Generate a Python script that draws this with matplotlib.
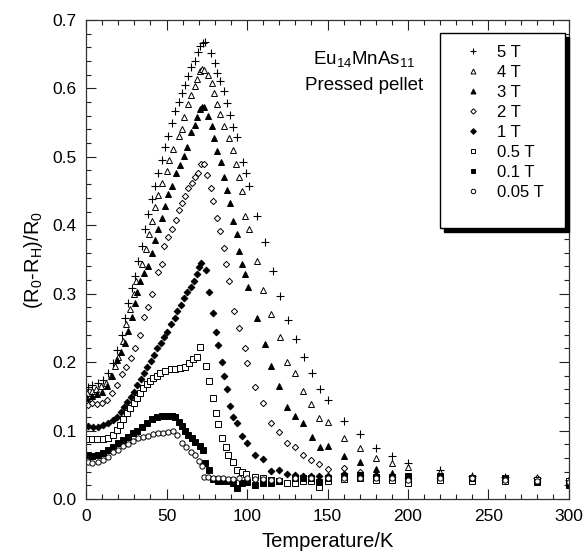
"""Magnetoresistance of a Eu14MnAs11 pressed pellet versus temperature."""

import matplotlib

matplotlib.use("Agg")
import matplotlib.pyplot as plt
from matplotlib.patches import Rectangle
from matplotlib.ticker import MultipleLocator

plt.rcParams["font.family"] = ["Liberation Sans", "DejaVu Sans"]
plt.rcParams["mathtext.fontset"] = "custom"
plt.rcParams["mathtext.rm"] = "Liberation Sans"
plt.rcParams["mathtext.it"] = "Liberation Sans"
plt.rcParams["mathtext.default"] = "regular"

# (R0 - RH)/R0 against temperature (K), one pair of lists per field
t_5T = [1, 4, 7.5, 10.5, 13.5, 17, 19.5, 22.5, 24.5, 26, 28.5, 30.5, 32.5, 35, 36.5,
        38.5, 41, 43, 45, 47.5, 49, 51, 53.5, 55.5, 57.5, 59.5, 61.5, 63.5, 65.5, 68,
        69.5, 71, 72.5, 74, 77.5, 80, 81.5, 83.5, 86, 87.5, 89.5, 91.5, 94, 97.5, 99.5,
        101.5, 106, 111, 116, 120.5, 125.5, 130.5, 135.5, 140.5, 145.5, 150, 160, 170,
        180, 190, 200, 220, 240, 260, 280, 300]
mr_5T = [0.164, 0.167, 0.170, 0.174, 0.184, 0.199, 0.218, 0.240, 0.265, 0.287, 0.309,
         0.326, 0.347, 0.370, 0.394, 0.416, 0.438, 0.458, 0.477, 0.496, 0.515, 0.531,
         0.549, 0.567, 0.580, 0.593, 0.605, 0.618, 0.631, 0.640, 0.653, 0.662, 0.666,
         0.668, 0.651, 0.637, 0.623, 0.611, 0.596, 0.579, 0.561, 0.543, 0.529, 0.492,
         0.476, 0.457, 0.414, 0.375, 0.333, 0.297, 0.261, 0.234, 0.208, 0.184, 0.160,
         0.145, 0.114, 0.095, 0.075, 0.063, 0.053, 0.042, 0.034, 0.032, 0.030, 0.028]

t_4T = [0.5, 3.5, 6.5, 9.5, 12.5, 15.5, 18, 20, 23, 25, 27.5, 29.5, 31, 35, 37.5, 39,
        41, 43, 45, 47.5, 50, 51.5, 54, 57.5, 59.5, 61, 63.5, 65.5, 67.5, 69, 70.5, 72,
        73.5, 75.5, 78, 79.5, 81.5, 83.5, 85.5, 89, 91, 93, 95, 97, 99, 101, 106, 110,
        115, 120.5, 125, 130, 135, 140, 145, 150, 160, 170, 180, 190, 200, 220, 240,
        260, 280, 300]
mr_4T = [0.155, 0.158, 0.161, 0.165, 0.170, 0.180, 0.195, 0.208, 0.231, 0.255, 0.277,
         0.299, 0.318, 0.343, 0.365, 0.387, 0.406, 0.426, 0.444, 0.461, 0.479, 0.495,
         0.512, 0.530, 0.541, 0.558, 0.577, 0.590, 0.603, 0.613, 0.625, 0.628, 0.627,
         0.619, 0.608, 0.593, 0.577, 0.562, 0.545, 0.528, 0.510, 0.489, 0.470, 0.450,
         0.414, 0.394, 0.348, 0.306, 0.270, 0.236, 0.200, 0.184, 0.158, 0.139, 0.119,
         0.113, 0.089, 0.075, 0.060, 0.053, 0.047, 0.040, 0.033, 0.031, 0.030, 0.028]

t_3T = [0.5, 3.5, 7, 10, 13, 16, 19.5, 22, 24.5, 26, 28.5, 30.5, 31.5, 33.5, 36, 38.5,
        41, 43, 45, 47.5, 49, 51, 53.5, 56, 58.5, 61, 63, 65.5, 67.5, 69, 70.5, 72, 73,
        75.5, 78, 79.5, 81.5, 84, 86, 87.5, 89.5, 91.5, 93.5, 95, 97, 99, 100.5, 106,
        111, 115, 120, 125, 130, 135, 140.5, 145.5, 150, 160, 170, 180, 190, 200, 220,
        240, 260, 280, 300]
mr_3T = [0.148, 0.150, 0.153, 0.157, 0.165, 0.180, 0.203, 0.215, 0.228, 0.246, 0.266,
         0.286, 0.302, 0.319, 0.330, 0.340, 0.359, 0.378, 0.394, 0.411, 0.428, 0.445,
         0.458, 0.477, 0.488, 0.501, 0.514, 0.536, 0.546, 0.558, 0.570, 0.572, 0.572,
         0.559, 0.545, 0.528, 0.508, 0.492, 0.470, 0.451, 0.433, 0.406, 0.387, 0.363,
         0.343, 0.328, 0.310, 0.264, 0.227, 0.194, 0.165, 0.135, 0.122, 0.111, 0.091,
         0.076, 0.078, 0.063, 0.054, 0.044, 0.038, 0.032, 0.030, 0.030, 0.028, 0.026,
         0.025]

t_2T = [1, 4, 7, 10, 13, 16, 19.5, 22.5, 25, 28, 30.5, 33.5, 36, 38.5, 41, 45, 47.5,
        48.5, 51, 53.5, 56, 58, 59.5, 61.5, 63.5, 66, 68, 69.5, 71.5, 73, 75, 77.5, 79,
        81.5, 83.5, 85.5, 87, 89, 92, 95, 99, 100, 105, 110, 115, 120, 125, 130, 135,
        140, 145, 150, 160, 170, 180, 190, 200, 220, 240, 260, 280, 300]
mr_2T = [0.138, 0.140, 0.139, 0.140, 0.145, 0.155, 0.167, 0.182, 0.193, 0.206, 0.221,
         0.240, 0.266, 0.281, 0.300, 0.331, 0.343, 0.370, 0.383, 0.394, 0.408, 0.422,
         0.433, 0.442, 0.454, 0.462, 0.470, 0.477, 0.489, 0.490, 0.474, 0.455, 0.435,
         0.411, 0.391, 0.367, 0.343, 0.318, 0.275, 0.250, 0.220, 0.199, 0.163, 0.140,
         0.111, 0.098, 0.082, 0.076, 0.064, 0.057, 0.051, 0.044, 0.045, 0.040, 0.035,
         0.032, 0.030, 0.028, 0.028, 0.030, 0.030, 0.028]

t_1T = [1, 4.5, 7.5, 10.5, 13.5, 17, 19.5, 22, 23.5, 25.5, 28, 30, 31.5, 34, 36, 38,
        40.5, 42.5, 44, 46.5, 48.5, 50.5, 53, 55, 56.5, 59, 61, 63, 65.5, 67, 69, 70,
        71.5, 74.5, 76.5, 79, 81, 82, 84.5, 86, 87.5, 89.5, 91.5, 94, 97, 100, 105, 110,
        115, 120, 125, 130, 135, 140, 145, 150, 160, 170, 180, 190, 200, 220, 240, 260,
        280, 300]
mr_1T = [0.107, 0.105, 0.105, 0.108, 0.111, 0.116, 0.120, 0.127, 0.135, 0.142, 0.149,
         0.157, 0.167, 0.176, 0.184, 0.193, 0.201, 0.211, 0.220, 0.228, 0.236, 0.244,
         0.255, 0.265, 0.274, 0.283, 0.293, 0.302, 0.310, 0.319, 0.329, 0.339, 0.345,
         0.335, 0.302, 0.272, 0.244, 0.225, 0.200, 0.179, 0.160, 0.136, 0.120, 0.111,
         0.092, 0.082, 0.064, 0.058, 0.041, 0.042, 0.037, 0.035, 0.034, 0.034, 0.033,
         0.033, 0.037, 0.035, 0.033, 0.032, 0.030, 0.030, 0.030, 0.028, 0.027, 0.025]

t_05T = [1, 4, 7, 10.5, 13.5, 16.5, 19, 21, 23, 25.5, 27.5, 29.5, 31.5, 33.5, 35.5, 38,
         40, 41.5, 44, 46, 49, 52.5, 55.5, 58.5, 61.5, 64, 66.5, 69, 71, 74.5, 76.5, 79,
         81, 82, 84.5, 87, 88.5, 91, 94, 97, 99.5, 105, 110, 115, 120, 125, 130, 135,
         140, 145, 150, 160, 170, 180, 190, 200, 220, 240, 260, 280, 300]
mr_05T = [0.088, 0.088, 0.088, 0.088, 0.089, 0.093, 0.101, 0.108, 0.117, 0.126, 0.133,
          0.140, 0.148, 0.155, 0.162, 0.168, 0.173, 0.177, 0.180, 0.184, 0.187, 0.190,
          0.190, 0.192, 0.193, 0.199, 0.204, 0.208, 0.222, 0.195, 0.173, 0.148, 0.126,
          0.110, 0.089, 0.076, 0.064, 0.054, 0.042, 0.040, 0.037, 0.032, 0.031, 0.028,
          0.026, 0.023, 0.024, 0.026, 0.026, 0.018, 0.026, 0.029, 0.030, 0.028, 0.028,
          0.024, 0.028, 0.027, 0.027, 0.028, 0.027]

t_01T = [1, 4, 7.5, 10.5, 13.5, 17, 20, 23, 26, 29, 31.5, 35, 38, 41, 44, 47, 50, 53.5,
         55.5, 57.5, 59.5, 61.5, 63.5, 66, 68, 70.5, 72.5, 74, 76.5, 79, 82, 85, 88, 91,
         94, 97, 100, 105, 110, 115, 120, 130, 135, 140, 145, 150, 160, 170, 180, 190,
         200, 220, 240, 260, 280, 300]
mr_01T = [0.064, 0.063, 0.064, 0.067, 0.072, 0.076, 0.082, 0.086, 0.091, 0.096, 0.100,
          0.105, 0.111, 0.117, 0.120, 0.121, 0.121, 0.121, 0.120, 0.113, 0.106, 0.099,
          0.094, 0.089, 0.084, 0.078, 0.072, 0.053, 0.042, 0.029, 0.027, 0.027, 0.027,
          0.023, 0.016, 0.023, 0.025, 0.020, 0.023, 0.023, 0.026, 0.031, 0.031, 0.031,
          0.025, 0.030, 0.033, 0.035, 0.032, 0.032, 0.033, 0.033, 0.030, 0.030, 0.025,
          0.020]

t_005T = [1, 4, 7.5, 10.5, 13.5, 17, 20, 23, 26, 29, 32.5, 35.5, 38.5, 41.5, 45, 48,
          51, 54, 56.5, 59.5, 62, 65, 68, 70, 72, 73.5, 76, 79, 82, 85, 88, 91, 95, 100,
          105, 110, 115, 120, 130, 140, 150, 160, 170, 180, 190, 200, 220, 240, 260,
          280, 300]
mr_005T = [0.054, 0.053, 0.054, 0.057, 0.062, 0.068, 0.072, 0.077, 0.081, 0.085, 0.089,
           0.091, 0.092, 0.095, 0.096, 0.097, 0.098, 0.100, 0.094, 0.082, 0.076, 0.069,
           0.064, 0.056, 0.048, 0.032, 0.032, 0.031, 0.030, 0.030, 0.029, 0.029, 0.030,
           0.030, 0.029, 0.029, 0.028, 0.028, 0.030, 0.030, 0.030, 0.030, 0.030, 0.030,
           0.030, 0.028, 0.030, 0.030, 0.028, 0.026, 0.025]

field_labels = ["5 T", "4 T", "3 T", "2 T", "1 T", "0.5 T", "0.1 T", "0.05 T"]

series = [
    (t_5T, mr_5T, dict(marker="+", ms=5.5, mew=0.8, mfc="black")),
    (t_4T, mr_4T, dict(marker="^", ms=4.2, mew=0.7, mfc="white")),
    (t_3T, mr_3T, dict(marker="^", ms=4.2, mew=0.7, mfc="black")),
    (t_2T, mr_2T, dict(marker="D", ms=3.2, mew=0.7, mfc="white")),
    (t_1T, mr_1T, dict(marker="D", ms=3.4, mew=0.7, mfc="black")),
    (t_05T, mr_05T, dict(marker="s", ms=4.2, mew=0.7, mfc="white")),
    (t_01T, mr_01T, dict(marker="s", ms=4.2, mew=0.7, mfc="black")),
    (t_005T, mr_005T, dict(marker="o", ms=3.8, mew=0.7, mfc="white")),
]

W, H = 584, 552
fig = plt.figure(figsize=(W / 100, H / 100), dpi=100)
ax = fig.add_axes([0.1473, 0.096, 0.827, 0.868])

for (t, mr, style), label in zip(series, field_labels):
    ax.plot(t, mr, ls="none", color="black", mec="black", label=label, **style)

ax.set_xlim(0, 300)
ax.set_ylim(0, 0.7)
ax.xaxis.set_major_locator(MultipleLocator(50))
ax.xaxis.set_minor_locator(MultipleLocator(10))
ax.yaxis.set_major_locator(MultipleLocator(0.1))
ax.yaxis.set_minor_locator(MultipleLocator(0.02))
ax.yaxis.set_major_formatter(plt.FormatStrFormatter("%.1f"))
ax.tick_params(which="both", direction="in", top=True, right=True, colors="#222222",
               labelcolor="black", labelsize=12.5)
ax.tick_params(which="major", length=7, width=0.8, pad=7)
ax.tick_params(which="minor", length=3.5, width=0.8)
for spine in ax.spines.values():
    spine.set_linewidth(0.9)
    spine.set_color("#333333")

ax.set_xlabel("Temperature/K", fontsize=14.5, labelpad=6)
ax.set_ylabel("(R$_0$-R$_H$)/R$_0$", fontsize=14.5, labelpad=5)

ax.text(0.576, 0.918, "Eu$_{14}$MnAs$_{11}$", transform=ax.transAxes, ha="center",
        va="center", fontsize=13.5)
ax.text(0.576, 0.862, "Pressed pellet", transform=ax.transAxes, ha="center",
        va="center", fontsize=13.5)

# legend box with a solid drop shadow, drawn under the legend entries
box_l, box_t, box_w, box_h = 440, 33, 125, 195
shadow_off = 3.5
for dx, fc, z in ((shadow_off, "black", 4), (0, "white", 5)):
    ax.add_patch(Rectangle(((box_l + dx) / W, (H - box_t - box_h - dx) / H),
                           box_w / W, box_h / H, transform=fig.transFigure,
                           facecolor=fc, edgecolor="black", linewidth=1.0,
                           zorder=z, clip_on=False))

leg = ax.legend(loc="upper left", bbox_to_anchor=(463 / W, 1 - 45 / H),
                bbox_transform=fig.transFigure, borderaxespad=0, borderpad=0,
                fontsize=12, frameon=False, handlelength=1.2, handletextpad=0.85,
                labelspacing=0.3, markerscale=0.85)
leg.set_zorder(6)

fig.savefig("out.png", dpi=100)
